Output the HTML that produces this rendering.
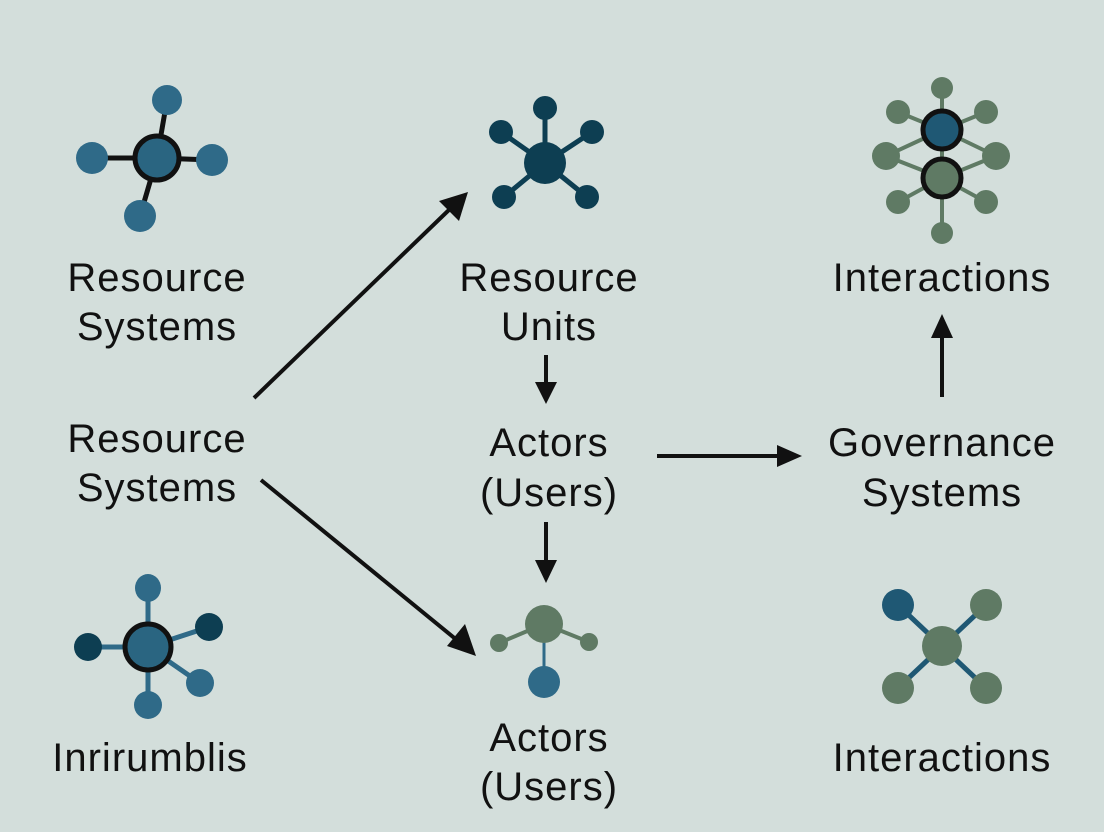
<!DOCTYPE html>
<html><head><meta charset="utf-8"><style>
html,body{margin:0;padding:0;background:#d3dedb;}
svg{display:block}
text{font-family:"Liberation Sans",Arial,sans-serif;font-size:40px;fill:#111;text-anchor:middle;letter-spacing:1px}
</style></head><body>
<svg width="1104" height="832" viewBox="0 0 1104 832" xmlns="http://www.w3.org/2000/svg">
<defs>
<marker id="ah" markerWidth="10" markerHeight="10" refX="8" refY="5" orient="auto" markerUnits="userSpaceOnUse" viewBox="0 0 10 10">
</marker>
</defs>
<rect width="1104" height="832" fill="#d3dedb"/>
<!-- Icon 1 -->
<g stroke="#111" stroke-width="5">
<line x1="157" y1="158" x2="167" y2="100"/><line x1="157" y1="158" x2="92" y2="158"/>
<line x1="157" y1="158" x2="212" y2="160"/><line x1="157" y1="158" x2="140" y2="216"/>
</g>
<g fill="#2f6a88">
<circle cx="167" cy="100" r="15"/><circle cx="92" cy="158" r="16"/><circle cx="212" cy="160" r="16"/><circle cx="140" cy="216" r="16"/>
</g>
<circle cx="157" cy="158" r="22" fill="#2a6581" stroke="#111" stroke-width="5"/>
<!-- Icon 2 -->
<g stroke="#0d3e52" stroke-width="5">
<line x1="545" y1="163" x2="545" y2="108"/><line x1="545" y1="163" x2="501" y2="132"/><line x1="545" y1="163" x2="592" y2="132"/>
<line x1="545" y1="163" x2="504" y2="197"/><line x1="545" y1="163" x2="587" y2="197"/>
</g>
<g fill="#0d3e52">
<circle cx="545" cy="163" r="21"/><circle cx="545" cy="108" r="12"/><circle cx="501" cy="132" r="12"/><circle cx="592" cy="132" r="12"/><circle cx="504" cy="197" r="12"/><circle cx="587" cy="197" r="12"/>
</g>
<!-- Icon 3 -->
<g stroke="#5f7a64" stroke-width="4">
<line x1="942" y1="88" x2="942" y2="233"/>
<line x1="942" y1="130" x2="898" y2="112"/><line x1="942" y1="130" x2="986" y2="112"/>
<line x1="942" y1="130" x2="886" y2="156"/><line x1="942" y1="130" x2="996" y2="156"/>
<line x1="942" y1="178" x2="886" y2="156"/><line x1="942" y1="178" x2="996" y2="156"/>
<line x1="942" y1="178" x2="898" y2="202"/><line x1="942" y1="178" x2="986" y2="202"/>
</g>
<g fill="#5f7a64">
<circle cx="942" cy="88" r="11"/><circle cx="898" cy="112" r="12"/><circle cx="986" cy="112" r="12"/>
<circle cx="886" cy="156" r="14"/><circle cx="996" cy="156" r="14"/><circle cx="898" cy="202" r="12"/><circle cx="986" cy="202" r="12"/><circle cx="942" cy="233" r="11"/>
</g>
<circle cx="942" cy="178" r="19" fill="#5f7a64" stroke="#111" stroke-width="5"/>
<circle cx="942" cy="130" r="19" fill="#1f5874" stroke="#111" stroke-width="5"/>
<!-- Icon 4 bottom left -->
<g stroke="#2f6a88" stroke-width="5">
<line x1="148" y1="647" x2="148" y2="588"/><line x1="148" y1="647" x2="88" y2="647"/><line x1="148" y1="647" x2="209" y2="627"/>
<line x1="148" y1="647" x2="200" y2="683"/><line x1="148" y1="647" x2="148" y2="705"/>
</g>
<ellipse cx="148" cy="588" rx="13" ry="14" fill="#2f6a88"/>
<circle cx="88" cy="647" r="14" fill="#0d3e52"/>
<circle cx="209" cy="627" r="14" fill="#0d3e52"/>
<circle cx="200" cy="683" r="14" fill="#2f6a88"/>
<circle cx="148" cy="705" r="14" fill="#2f6a88"/>
<circle cx="148" cy="647" r="23" fill="#2a6581" stroke="#111" stroke-width="5"/>
<!-- Icon 5 bottom middle -->
<g stroke="#5f7a64" stroke-width="4"><line x1="544" y1="624" x2="499" y2="643"/><line x1="544" y1="624" x2="589" y2="642"/></g>
<line x1="544" y1="624" x2="544" y2="682" stroke="#2f6a88" stroke-width="3"/>
<circle cx="544" cy="624" r="19" fill="#5f7a64"/><circle cx="499" cy="643" r="9" fill="#5f7a64"/><circle cx="589" cy="642" r="9" fill="#5f7a64"/>
<circle cx="544" cy="682" r="16" fill="#2f6a88"/>
<!-- Icon 6 bottom right -->
<g stroke="#1f5874" stroke-width="5"><line x1="898" y1="605" x2="986" y2="688"/><line x1="986" y1="605" x2="898" y2="688"/></g>
<circle cx="898" cy="605" r="16" fill="#1f5874"/><circle cx="986" cy="605" r="16" fill="#5f7a64"/>
<circle cx="898" cy="688" r="16" fill="#5f7a64"/><circle cx="986" cy="688" r="16" fill="#5f7a64"/>
<circle cx="942" cy="646" r="20" fill="#5f7a64"/>
<!-- Arrows -->
<g stroke="#111" stroke-width="4" fill="none">
<line x1="254" y1="398" x2="452" y2="207"/>
<line x1="261" y1="480" x2="458" y2="641"/>
<line x1="546" y1="355" x2="546" y2="385"/>
<line x1="546" y1="522" x2="546" y2="562"/>
<line x1="657" y1="456" x2="780" y2="456"/>
<line x1="942" y1="397" x2="942" y2="335"/>
</g>
<g fill="#111">
<polygon points="468,192 459,221 439,201"/>
<polygon points="476,656 447,646 465,624"/>
<polygon points="546,404 535,382 557,382"/>
<polygon points="546,583 535,560 557,560"/>
<polygon points="802,456 777,445 777,467"/>
<polygon points="942,314 931,338 953,338"/>
</g>
<!-- Labels -->
<text x="157" y="291">Resource</text><text x="157" y="340">Systems</text>
<text x="157" y="452">Resource</text><text x="157" y="501">Systems</text>
<text x="150" y="771">Inrirumblis</text>
<text x="549" y="291">Resource</text><text x="549" y="340">Units</text>
<text x="549" y="456">Actors</text><text x="549" y="506">(Users)</text>
<text x="549" y="751">Actors</text><text x="549" y="800">(Users)</text>
<text x="942" y="291">Interactions</text>
<text x="942" y="456">Governance</text><text x="942" y="506">Systems</text>
<text x="942" y="771">Interactions</text>
</svg>
</body></html>
